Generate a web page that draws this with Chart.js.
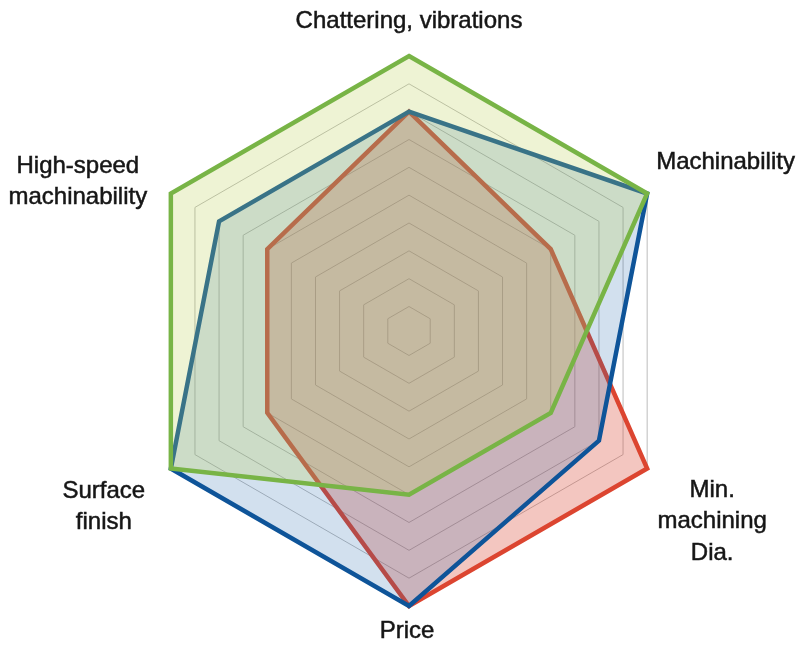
<!DOCTYPE html>
<html>
<head>
<meta charset="utf-8">
<script src="https://cdn.jsdelivr.net/npm/chart.js@4/dist/chart.umd.min.js"></script>
<style>
  html, body { margin: 0; padding: 0; background: #fff; }
  #wrap { width: 798px; height: 647px; position: relative; }
</style>
</head>
<body>
<div id="wrap"><canvas id="radar"></canvas></div>
<script>
// axes, clockwise from the top
const categories = [
    ['Chattering, vibrations'],
    ['Machinability'],
    ['Min.', 'machining', 'Dia.'],
    ['Price'],
    ['Surface', 'finish'],
    ['High-speed', 'machinability'],
];

const greenValues = [10, 10, 6, 6, 10, 10];
const blueValues  = [8, 10, 8, 10, 10, 8];
const redValues   = [8, 6, 10, 10, 6, 6];

// where each axis label sits relative to its outer vertex
const labelLayout = [
    { align: 'center', dx: 0,   dy: -28 },
    { align: 'left',   dx: 9,   dy: -25 },
    { align: 'center', dx: 65,  dy: 28 },
    { align: 'center', dx: -2,  dy: 32 },
    { align: 'center', dx: -67, dy: 29 },
    { align: 'center', dx: -93, dy: -21 },
];
const lineHeight = 31.5;

const axisLabels = {
    id: 'axisLabels',
    afterDatasetsDraw(chart) {
        const scale = chart.scales.r;
        const ctx = chart.ctx;
        ctx.save();
        ctx.font = '24px "Liberation Sans", Arial, sans-serif';
        ctx.fillStyle = '#161616';
        ctx.strokeStyle = '#161616';
        ctx.lineWidth = 0.5;
        ctx.textBaseline = 'alphabetic';
        categories.forEach((lines, i) => {
            const p = scale.getPointPositionForValue(i, scale.max);
            const l = labelLayout[i];
            ctx.textAlign = l.align;
            lines.forEach((txt, k) => {
                const x = p.x + l.dx, y = p.y + l.dy + k * lineHeight;
                ctx.fillText(txt, x, y);
                ctx.strokeText(txt, x, y);
            });
        });
        ctx.restore();
    },
};

new Chart(document.getElementById('radar'), {
    type: 'radar',
    data: {
        labels: categories,
        datasets: [
            {
                label: 'green',
                data: greenValues,
                borderColor: '#78b446',
                backgroundColor: 'rgba(187, 207, 83, 0.25)',
            },
            {
                label: 'blue',
                data: blueValues,
                borderColor: '#0e5499',
                backgroundColor: 'rgba(30, 100, 170, 0.2)',
            },
            {
                label: 'red',
                data: redValues,
                borderColor: '#dc4530',
                backgroundColor: 'rgba(216, 67, 46, 0.3)',
            },
        ].map(ds => ({
            ...ds,
            borderWidth: 4.5,
            pointRadius: 0,
            pointHoverRadius: 0,
            fill: 'start',
            borderJoinStyle: 'miter',
        })),
    },
    options: {
        responsive: true,
        maintainAspectRatio: false,
        animation: false,
        layout: { padding: { top: 56, bottom: 41, left: 20, right: 0 } },
        plugins: {
            legend: { display: false },
            tooltip: { enabled: false },
        },
        scales: {
            r: {
                min: 0.12,
                max: 10,
                ticks: { display: false, stepSize: 1 },
                pointLabels: { display: false },
                angleLines: { display: false },
                grid: { color: '#bcbcbc', lineWidth: 1 },
            },
        },
    },
    plugins: [axisLabels],
});
</script>
</body>
</html>
